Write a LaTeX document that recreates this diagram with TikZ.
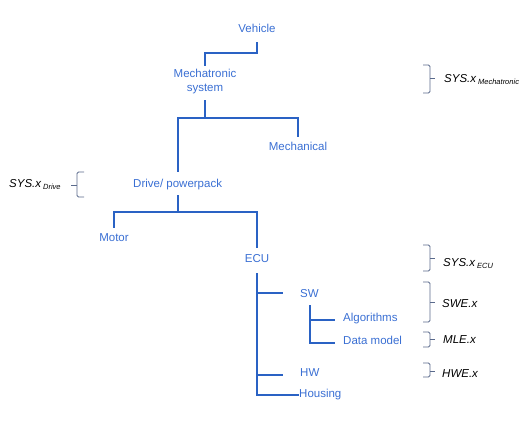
\documentclass[tikz,border=0pt]{standalone}
\usepackage{fontspec}
\setmainfont{Liberation Sans}
\usetikzlibrary{calc}
\definecolor{treeline}{HTML}{2A62C4}
\definecolor{treetext}{HTML}{3A6FD3}
\definecolor{bracec}{HTML}{5A6A8C}
\begin{document}
\begin{tikzpicture}[x=1pt,y=-1pt,
  lbl/.style={text=treetext, inner sep=0pt, font=\fontsize{11.5}{14}\selectfont},
  tl/.style={draw=treeline, line width=2.4pt},
  ann/.style={inner sep=0pt, font=\fontsize{11.5}{14}\selectfont\itshape},
  brc/.style={draw=bracec, line width=0.8pt, rounded corners=1.5pt}]
\useasboundingbox (0,0) rectangle (531,421);
% tree nodes
\node[lbl,anchor=base] (veh) at (257,32) {Vehicle};
\node[lbl,align=center] (mech) at (205,82) {Mechatronic\\system};
\node[lbl,anchor=base] (mechl) at (298,150) {Mechanical};
\node[lbl,anchor=base west] (drive) at (133,187) {Drive/ powerpack};
\node[lbl,anchor=base] (motor) at (114,241) {Motor};
\node[lbl,anchor=base] (ecu) at (257,262) {ECU};
\node[lbl,anchor=base west] (sw) at (300,297) {SW};
\node[lbl,anchor=base west] (alg) at (343,321) {Algorithms};
\node[lbl,anchor=base west] (dm) at (343,344) {Data model};
\node[lbl,anchor=base west] (hw) at (300,376) {HW};
\node[lbl,anchor=base west] (hous) at (299,397) {Housing};
% connectors
\draw[tl] ($(veh.base)+(0,10)$) -- ++(0,11) -| ($(mech.north)+(0,-3.5)$);
\draw[tl] ($(mech.south)+(0,5.5)$) -- ++(0,18) -| ($(mechl.base)+(0,-13)$);
\draw[tl] ($(mech.south)+(0,23.5)$) -| ($(drive.base west)+(45,-15)$);
\draw[tl] ($(drive.base west)+(45,8)$) -- ++(0,17) -| ($(motor.base)+(0,-13)$);
\draw[tl] ($(drive.base west)+(45,25)$) -| ($(ecu.base)+(0,-14)$);
\draw[tl] ($(ecu.base)+(0,11)$) |- ($(sw.base west)+(-17,-4)$);
\draw[tl] ($(ecu.base)+(0,11)$) |- ($(hw.base west)+(-17,-1)$);
\draw[tl] ($(ecu.base)+(0,11)$) |- ($(hous.base west)+(0,-2)$);
\draw[tl] ($(sw.base west)+(10,8)$) |- ($(alg.base west)+(-8,-1)$);
\draw[tl] ($(sw.base west)+(10,8)$) |- ($(dm.base west)+(-8,-1)$);
% annotations
\node[ann,anchor=base west] (sysm) at (444,82) {SYS.x\kern2pt\raisebox{-2.5pt}{\fontsize{7.5}{8}\selectfont Mechatronic}};
\node[ann,anchor=base west] (sysd) at (9,187) {SYS.x\kern2pt\raisebox{-2.5pt}{\fontsize{7.5}{8}\selectfont Drive}};
\node[ann,anchor=base west] (syse) at (443,266) {SYS.x\kern2pt\raisebox{-2.5pt}{\fontsize{7.5}{8}\selectfont ECU}};
\node[ann,anchor=base west] (swe) at (442,307) {SWE.x};
\node[ann,anchor=base west] (mle) at (443,343) {MLE.x};
\node[ann,anchor=base west] (hwe) at (442,377) {HWE.x};
% braces
\draw[brc] (423,65) -- (430,65) -- (430,93) -- (423,93);
\draw[brc] (430,78) -- (435,78);
\draw[brc] (84,172) -- (77,172) -- (77,197) -- (84,197);
\draw[brc] (77,185) -- (71,185);
\draw[brc] (423,245) -- (430,245) -- (430,271) -- (423,271);
\draw[brc] (430,258) -- (435,258);
\draw[brc] (423,282) -- (430,282) -- (430,322) -- (423,322);
\draw[brc] (430,302) -- (435,302);
\draw[brc] (423,332) -- (430,332) -- (430,347) -- (423,347);
\draw[brc] (430,339) -- (435,339);
\draw[brc] (423,363) -- (430,363) -- (430,377) -- (423,377);
\draw[brc] (430,371) -- (435,371);
\end{tikzpicture}
\end{document}
